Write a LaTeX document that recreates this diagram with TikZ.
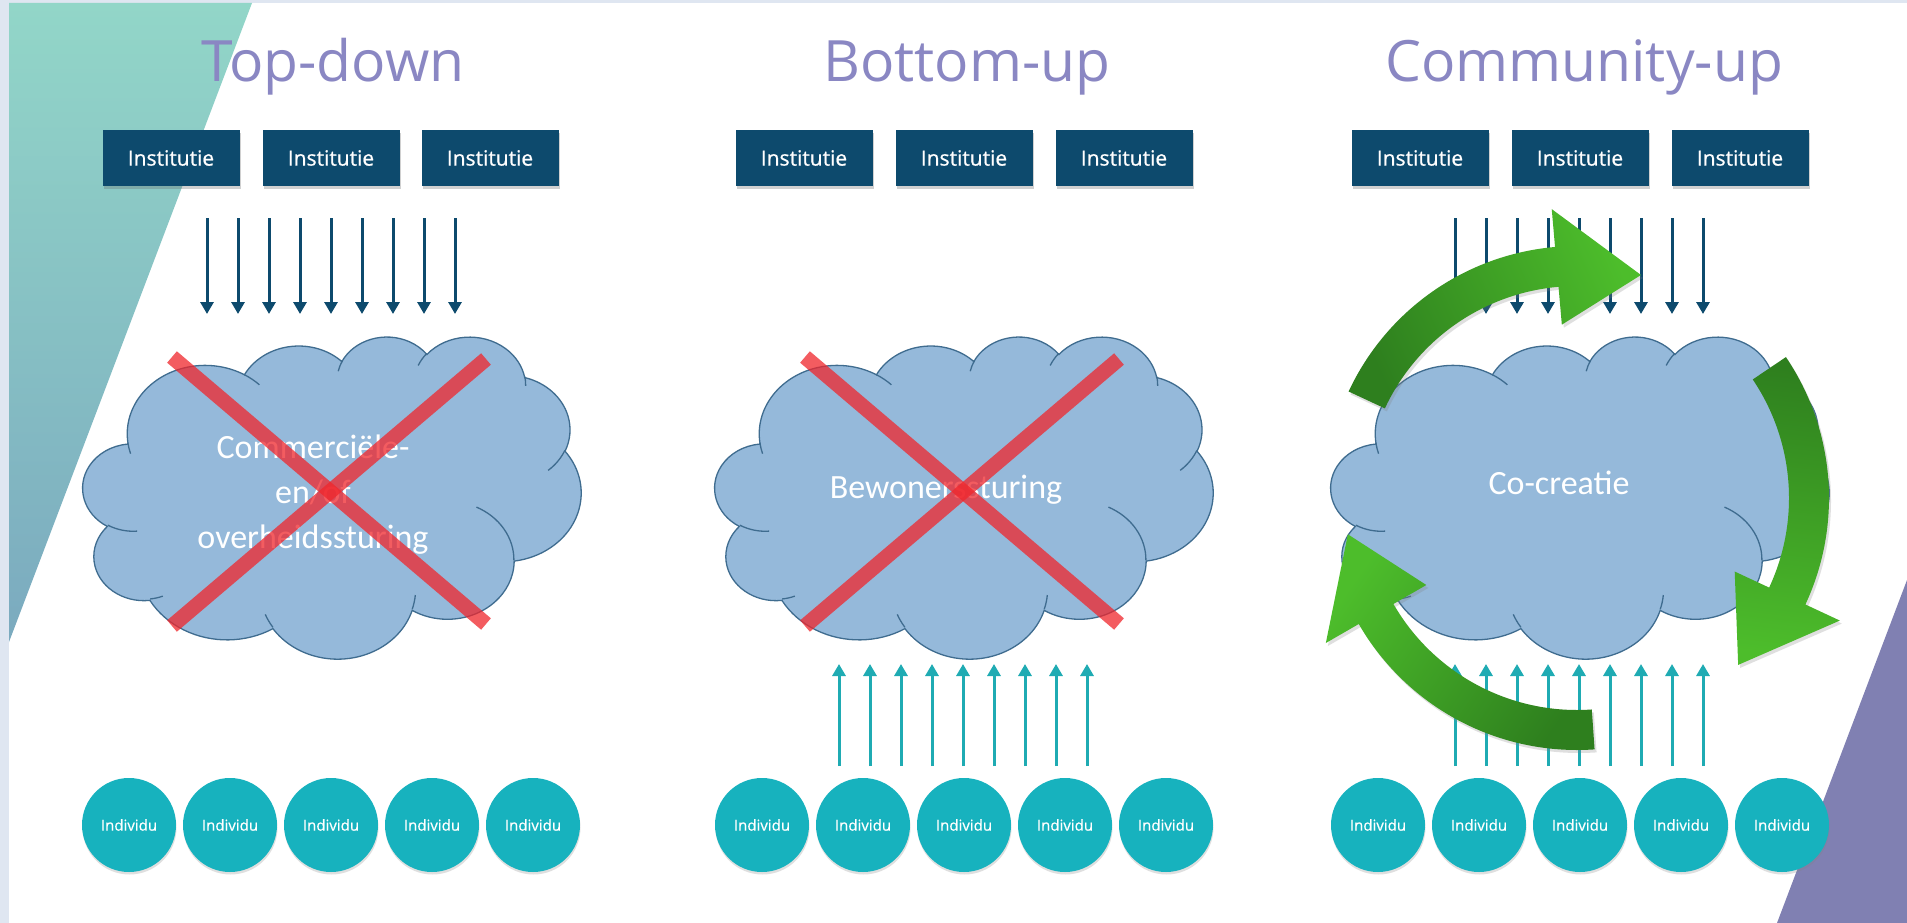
\documentclass[tikz,border=0pt]{standalone}
\usepackage{tikz}
\usepackage{fontspec}
\setmainfont{Open Sans}
\newfontfamily\cloudfont{Carlito}
\newfontfamily\instfont[FakeBold=0.8]{Open Sans}
\newfontfamily\indfont[FakeBold=0.6]{Open Sans}
\usetikzlibrary{arrows.meta,shadows,calc}

\definecolor{bordercol}{HTML}{DFE6F1}
\definecolor{tealA}{HTML}{92D6C8}
\definecolor{tealB}{HTML}{7BAABF}
\definecolor{purp}{HTML}{8080B2}
\definecolor{titlecol}{HTML}{8A87C3}
\definecolor{navy}{HTML}{0D4A6D}
\definecolor{tealarrow}{HTML}{1FABB3}
\definecolor{indivcol}{HTML}{17B2BE}
\definecolor{cloudfillcol}{HTML}{95B9DA}
\definecolor{cloudlinecol}{HTML}{3F6C8F}
\definecolor{redx}{HTML}{F0262C}
\definecolor{greenD}{HTML}{2E7F1E}
\definecolor{greenL}{HTML}{4DBD2B}

% ---- PowerPoint cloud shape, built once ----
\newcommand\CW{498}
\newcommand\CH{322}
\newcommand\cldpath{}
\newcommand\cldarc[4]{%
  \pgfmathsetmacro\cldta{atan2((#1)*sin(#3),(#2)*cos(#3))}%
  \pgfmathsetmacro\cldtb{atan2((#1)*sin((#3)+(#4)),(#2)*cos((#3)+(#4)))}%
  \pgfmathsetmacro\cldsa{0-(\cldta)}%
  \pgfmathsetmacro\cldda{0-mod((\cldtb)-(\cldta)+720,360)}%
  \pgfmathsetmacro\cldrx{(#1)/432*\CW/100}%
  \pgfmathsetmacro\cldry{(#2)/432*\CH/100}%
  \xdef\cldpath{\cldpath arc[start angle=\cldsa, delta angle=\cldda, x radius=\cldrx pt, y radius=\cldry pt]}%
}
\newcommand\cldmove[2]{%
  \pgfmathsetmacro\cldx{(#1)/432*\CW}%
  \pgfmathsetmacro\cldy{(#2)/432*\CH}%
  \xdef\cldpath{\cldpath (\cldx,\cldy)}%
}
\cldmove{39.00}{143.70}
\cldarc{6753}{9190}{-190.4875}{123.7805}
\cldarc{5333}{7267}{-144.1024}{89.9452}
\cldarc{4365}{5945}{-145.8079}{99.7230}
\cldarc{4857}{6595}{-130.9861}{117.2417}
\cldarc{5333}{7273}{-78.7089}{109.0269}
\cldarc{6775}{9220}{-46.2673}{130.2690}
\cldarc{5785}{7867}{0.6250}{114.0333}
\cldarc{6752}{9215}{22.4516}{115.1726}
\cldarc{7720}{10543}{66.2426}{75.7110}
\cldarc{4360}{5918}{-274.9421}{146.7356}
\cldarc{4345}{5945}{-246.8285}{152.5189}
\let\cldmain\cldpath
\gdef\cldpath{}
\cldmove{46.93}{261.77}\cldarc{4345}{5945}{86.7420}{26.4295}
\cldmove{69.28}{348.99}\cldarc{4360}{5918}{73.6105}{11.4475}
\cldmove{164.78}{390.90}\cldarc{6752}{9215}{137.6242}{14.0811}
\cldmove{288.27}{347.51}\cldarc{6752}{9215}{6.4533}{15.9984}
\cldmove{341.29}{229.54}\cldarc{5785}{7867}{-70.2924}{70.9174}
\cldmove{417.98}{153.54}\cldarc{5333}{7273}{30.3180}{27.7515}
\cldmove{383.24}{54.26}\cldarc{4857}{6595}{-13.7443}{14.8589}
\cldmove{290.78}{39.52}\cldarc{4857}{6595}{-149.1815}{18.1954}
\cldmove{221.41}{47.20}\cldarc{4365}{5945}{-163.4943}{17.6864}
\cldmove{140.00}{51.92}\cldarc{6753}{9190}{-66.7070}{12.3194}
\cldmove{41.27}{157.89}\cldarc{6753}{9190}{157.6544}{11.8582}
\let\cldinner\cldpath

\newcommand\drawcloud[2]{%
  \begin{scope}[shift={(#1,#2)}]
    \edef\cldtmp{\noexpand\path[cloudshape] \cldmain -- cycle;}\cldtmp
    \edef\cldtmp{\noexpand\draw[cloudedge] \cldinner;}\cldtmp
  \end{scope}}

\begin{document}
\begin{tikzpicture}[x=1pt,y=-1pt,
  title/.style={anchor=base,inner sep=0pt,text=titlecol,font=\fontsize{57}{60}\selectfont},
  instbox/.style={rectangle,fill=navy,text=white,minimum width=137pt,minimum height=56pt,inner sep=0pt,
    font=\instfont\fontsize{21}{24}\selectfont,
    drop shadow={shadow xshift=1pt,shadow yshift=-3pt,opacity=0.3,fill=black!60}},
  navyarrow/.style={draw=navy,line width=3pt,-{Triangle[length=12pt,width=13pt]}},
  tealup/.style={draw=tealarrow,line width=3pt,-{Triangle[length=12pt,width=13pt]}},
  cloudshape/.style={fill=cloudfillcol,draw=cloudlinecol,line width=1.3pt},
  cloudedge/.style={draw=cloudlinecol,line width=1.3pt},
  cloudtext/.style={text=white,inner sep=0pt,align=center,font=\cloudfont\fontsize{34}{45}\selectfont},
  crossline/.style={draw=redx,line width=15pt,opacity=0.75},
  indiv/.style={circle,fill=indivcol,text=white,minimum size=94pt,inner sep=0pt,
    font=\indfont\fontsize{15}{17}\selectfont,
    drop shadow={shadow xshift=0.5pt,shadow yshift=-2.5pt,opacity=0.25,fill=black!50}},
  greenarrow/.style={drop shadow={shadow xshift=2pt,shadow yshift=-3pt,opacity=0.25,fill=black!50}}
]
\useasboundingbox (0,0) rectangle (1907,923);
% background
\fill[bordercol] (0,0) rectangle (1907,923);
\fill[white] (9,3) rectangle (1907,923);
\shade[top color=tealA,bottom color=tealB] (9,3) -- (252,3) -- (9,642) -- cycle;
\fill[purp] (1907,580) -- (1907,923) -- (1777,923) -- cycle;

% titles
\node[title] (title1) at (333,82) {Top-down};
\node[title] (title2) at (967,82) {Bottom-up};
\node[title] (title3) at (1584,82) {Community-up};

% institution boxes
\foreach \n/\x in {a1/171,a2/331,a3/490,b1/804,b2/964,b3/1124,c1/1420,c2/1580,c3/1740}
  \node[instbox] (box-\n) at (\x,158) {Institutie};

% downward arrows
\foreach \p/\c in {td/331,cu/1579}
  \foreach \k in {0,...,8} {
    \coordinate (\p-s\k) at (\c+31*\k-124,218);
    \coordinate (\p-e\k) at (\c+31*\k-124,314);
    \draw[navyarrow] (\p-s\k) -- (\p-e\k);
  }

% upward arrows
\foreach \p/\c/\t in {bu/963/766,cu/1579/766}
  \foreach \k in {0,...,8} {
    \coordinate (\p-us\k) at (\c+31*\k-124,\t);
    \coordinate (\p-ue\k) at (\c+31*\k-124,664);
    \draw[tealup] (\p-us\k) -- (\p-ue\k);
  }

% clouds
\drawcloud{83}{336}
\drawcloud{715}{336}
\drawcloud{1331}{336}

% cloud texts
\node[cloudtext] (txt1) at (313,495) {Commerciële-\\en/of\\overheidssturing};
\node[cloudtext,anchor=base] (txt2) at (946,498) {Bewonerssturing};
\node[cloudtext,anchor=base] (txt3) at (1559,494) {Co-creatie};

% red crosses
\coordinate (x1a) at (172,357); \coordinate (x1b) at (486,624);
\coordinate (x1c) at (486,359); \coordinate (x1d) at (172,626);
\draw[crossline] (x1a) -- (x1b);
\draw[crossline] (x1c) -- (x1d);
\coordinate (x2a) at (805,357); \coordinate (x2b) at (1119,624);
\coordinate (x2c) at (1119,359); \coordinate (x2d) at (805,626);
\draw[crossline] (x2a) -- (x2b);
\draw[crossline] (x2c) -- (x2d);

% individuals
\foreach \p/\c in {td/331,bu/964,cu/1580}
  \foreach \k in {0,...,4}
    \node[indiv] (\p-i\k) at (\c+101*\k-202,825) {Individu};

% green cycle arrows
\coordinate (C) at (1577,498);
\shade[greenarrow,top color=greenL,bottom color=greenD,shading angle=-65.4]
  ($(C)+(205:252)$) arc[start angle=-205,end angle=-265,radius=252pt]
  -- ($(C)+(265:290)$) -- ($(C)+(286:232)$) -- ($(C)+(265:174)$) -- ($(C)+(265:212)$)
  arc[start angle=-265,end angle=-205,radius=212pt] -- cycle;
\shade[greenarrow,top color=greenL,bottom color=greenD,shading angle=173.6]
  ($(C)+(326:252)$) arc[start angle=-326,end angle=-385,radius=252pt]
  -- ($(C)+(25:290)$) -- ($(C)+(46:232)$) -- ($(C)+(25:174)$) -- ($(C)+(25:212)$)
  arc[start angle=-385,end angle=-326,radius=212pt] -- cycle;
\shade[greenarrow,top color=greenL,bottom color=greenD,shading angle=55.3]
  ($(C)+(86:252)$) arc[start angle=-86,end angle=-150,radius=252pt]
  -- ($(C)+(150:290)$) -- ($(C)+(171:232)$) -- ($(C)+(150:174)$) -- ($(C)+(150:212)$)
  arc[start angle=-150,end angle=-86,radius=212pt] -- cycle;
\end{tikzpicture}
\end{document}
